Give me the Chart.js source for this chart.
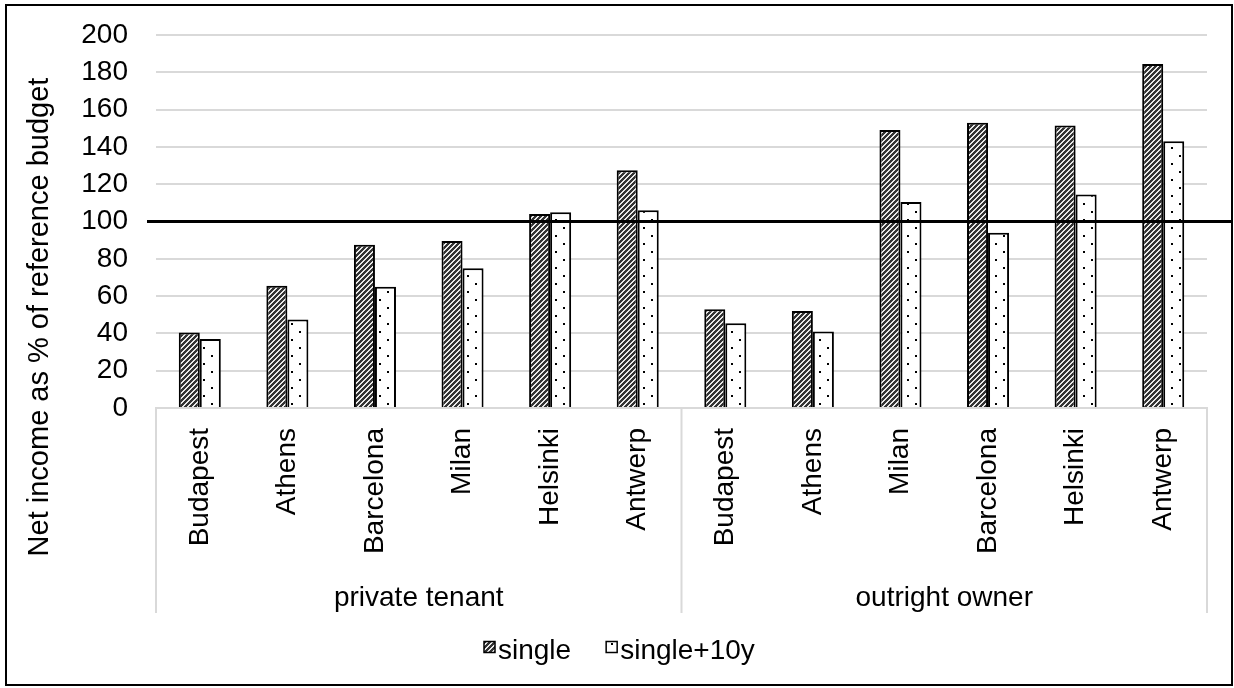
<!DOCTYPE html>
<html lang="en">
  <head>
    <meta charset="UTF-8" />
    <title>Net income as % of reference budget</title>
    <script src="https://cdn.jsdelivr.net/npm/chart.js@4.4.1/dist/chart.umd.min.js"></script>
    <style>
      body { margin: 0; background: #fff; }
      canvas { display: block; }
    </style>
  </head>
  <body>
    <canvas id="myChart" width="1234" height="688"></canvas>
    <script>
    // city labels, two tenure groups of six
    const cities = ['Budapest', 'Athens', 'Barcelona', 'Milan', 'Helsinki', 'Antwerp',
                    'Budapest', 'Athens', 'Milan', 'Barcelona', 'Helsinki', 'Antwerp'];
    const groups = ['private tenant', 'outright owner'];
    const single = [40.5, 65.5, 87.5, 89.5, 104, 127.5, 53, 52, 149, 153, 151.5, 184.5];
    const single10y = [37, 47.5, 65, 75, 105, 106, 45.5, 41, 110.5, 94, 114.5, 143];
    const yMin = 0, yMax = 200, yStep = 20;
    const refLevel = 100;
    const yTitle = 'Net income as % of reference budget';

    const FONT = "'Liberation Sans', Arial, sans-serif";

    // wide upward diagonal hatch for "single"
    function hatchPattern() {
      const n = 10;
      const c = document.createElement('canvas');
      c.width = n; c.height = n;
      const g = c.getContext('2d');
      for (let y = 0; y < n; y++) {
        for (let x = 0; x < n; x++) {
          g.fillStyle = ((x + y) % 5) < 3 ? '#333333' : '#e8e8e8';
          g.fillRect(x, y, 1, 1);
        }
      }
      return g.createPattern(c, 'repeat');
    }

    // sparse dots for "single+10y"
    function dotPattern() {
      const c = document.createElement('canvas');
      c.width = 16; c.height = 16;
      const g = c.getContext('2d');
      g.fillStyle = '#fff';
      g.fillRect(0, 0, 16, 16);
      g.fillStyle = '#000';
      g.fillRect(3, 3, 2, 2);
      g.fillRect(11, 11, 2, 2);
      return g.createPattern(c, 'repeat');
    }

    const frame = {
      id: 'frame',
      beforeDraw(chart) {
        const ctx = chart.ctx;
        ctx.save();
        ctx.fillStyle = '#fff';
        ctx.fillRect(0, 0, chart.width, chart.height);
        ctx.strokeStyle = '#000';
        ctx.lineWidth = 2;
        ctx.strokeRect(6, 5, 1226, 680);
        ctx.restore();
      }
    };

    // black line at 100%
    const refLine = {
      id: 'refLine',
      afterDatasetsDraw(chart) {
        const ctx = chart.ctx;
        const y = chart.scales.y.getPixelForValue(refLevel);
        ctx.save();
        ctx.strokeStyle = '#000';
        ctx.lineWidth = 3;
        ctx.beginPath();
        ctx.moveTo(chart.chartArea.left - 9, y);
        ctx.lineTo(chart.width - 2, y);
        ctx.stroke();
        ctx.restore();
      }
    };

    // second level of the category axis, y title and legend
    const extras = {
      id: 'extras',
      afterDraw(chart) {
        const ctx = chart.ctx;
        const x = chart.scales.x;
        const top = chart.chartArea.bottom;
        const per = cities.length / groups.length;
        const edges = [x.left];
        for (let i = 1; i < groups.length; i++) {
          edges.push((x.getPixelForValue(i * per - 1) + x.getPixelForValue(i * per)) / 2);
        }
        edges.push(x.right);
        ctx.save();
        ctx.strokeStyle = '#d9d9d9';
        ctx.lineWidth = 2;
        edges.forEach(e => {
          ctx.beginPath();
          ctx.moveTo(e, top);
          ctx.lineTo(e, top + 205);
          ctx.stroke();
        });
        ctx.fillStyle = '#000';
        ctx.font = '28px ' + FONT;
        ctx.textAlign = 'center';
        ctx.textBaseline = 'middle';
        groups.forEach((g, i) => {
          ctx.fillText(g, (edges[i] + edges[i + 1]) / 2, top + 190);
        });

        // axis title, centred over plot and category rows
        ctx.save();
        ctx.font = '29px ' + FONT;
        ctx.translate(40, 317);
        ctx.rotate(-Math.PI / 2);
        ctx.fillText(yTitle, 0, 0);
        ctx.restore();

        // legend
        ctx.textAlign = 'left';
        let lx = 484;
        const ly = 647;
        chart.data.datasets.forEach(ds => {
          ctx.fillStyle = ds.backgroundColor;
          ctx.fillRect(lx, ly - 5.5, 11, 11);
          ctx.strokeStyle = '#000';
          ctx.lineWidth = 1.5;
          ctx.strokeRect(lx, ly - 5.5, 11, 11);
          ctx.fillStyle = '#000';
          ctx.fillText(ds.label, lx + 14, 651);
          lx += 14 + ctx.measureText(ds.label).width + 35;
        });
        ctx.restore();
      }
    };

    const ctx = document.getElementById('myChart').getContext('2d');
    const myChart = new Chart(ctx, {
      type: 'bar',
      data: {
        labels: cities,
        datasets: [
          {
            label: 'single',
            data: single,
            backgroundColor: hatchPattern(),
            borderColor: '#000',
            borderWidth: 2,
            categoryPercentage: 0.48,
            barPercentage: 1
          },
          {
            label: 'single+10y',
            data: single10y,
            backgroundColor: dotPattern(),
            borderColor: '#000',
            borderWidth: 2,
            categoryPercentage: 0.48,
            barPercentage: 1
          }
        ]
      },
      options: {
        responsive: false,
        animation: false,
        devicePixelRatio: 1,
        layout: { padding: { left: 6, right: 27, top: 35, bottom: 0 } },
        plugins: {
          tooltip: { enabled: false },
          legend: { display: false }
        },
        scales: {
          x: {
            grid: { display: false },
            border: { color: '#d9d9d9', width: 2 },
            ticks: {
              color: '#000',
              font: { family: FONT, size: 28 },
              minRotation: 90,
              maxRotation: 90,
              autoSkip: false,
              padding: 12
            },
            afterFit(scale) { scale.height = 280; }
          },
          y: {
            min: yMin,
            max: yMax,
            // invisible tick marks keep the labels clear of the plot
            grid: { color: '#d9d9d9', lineWidth: 2, drawTicks: true, tickLength: 28, tickColor: 'rgba(0,0,0,0)' },
            border: { display: false },
            ticks: {
              stepSize: yStep,
              autoSkip: false,
              color: '#000',
              font: { family: FONT, size: 28 },
              padding: 0
            },
            afterFit(scale) { scale.width = 150; }
          }
        }
      },
      plugins: [frame, refLine, extras]
    });
    </script>
  </body>
</html>
